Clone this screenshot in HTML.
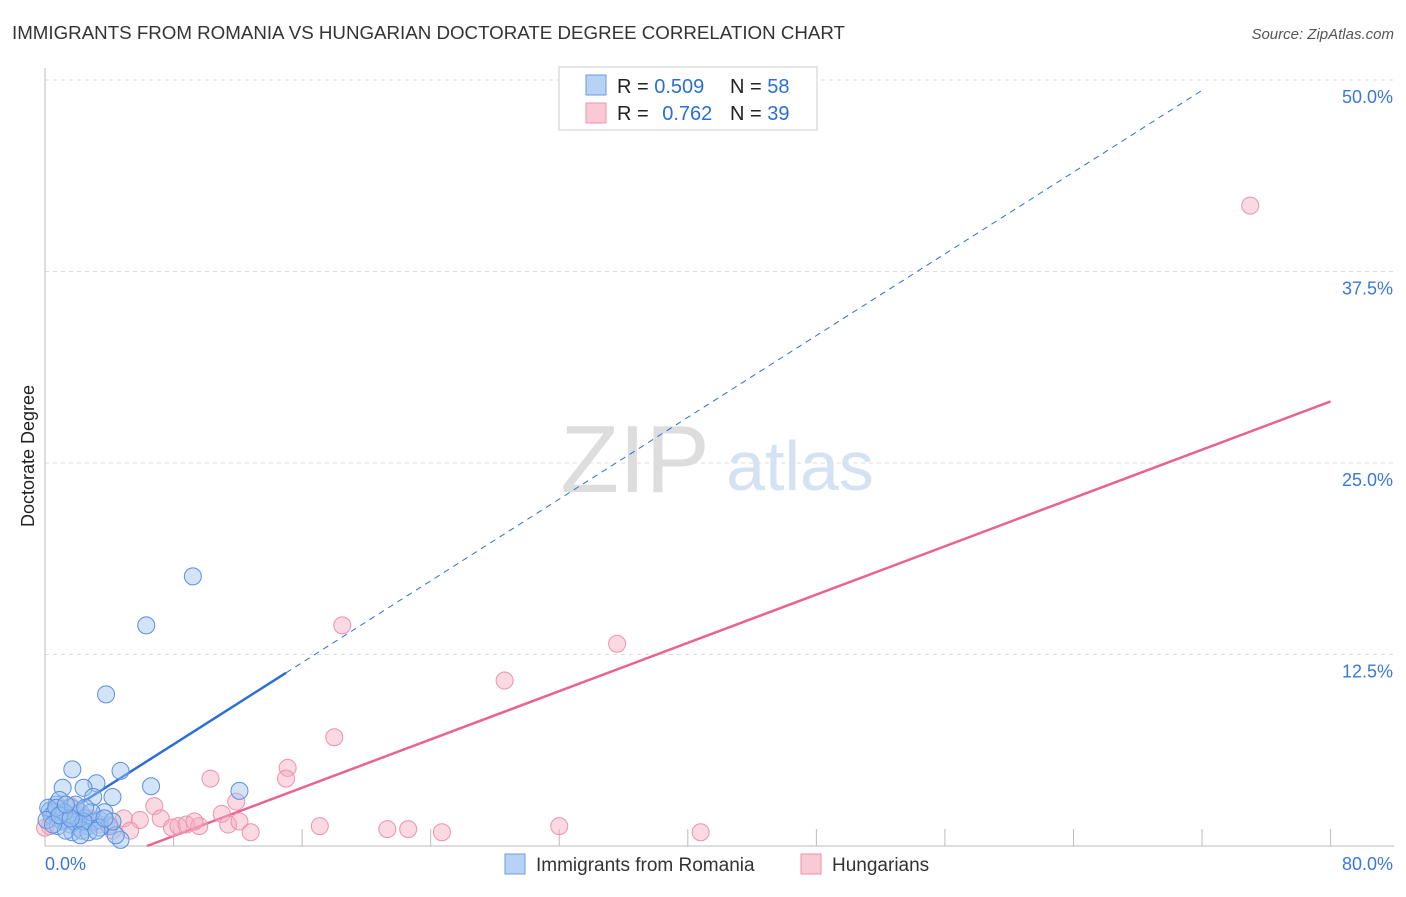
<!DOCTYPE html>
<html><head><meta charset="utf-8"><style>
body{margin:0;background:#fff;font-family:"Liberation Sans",sans-serif;}
svg text{font-family:"Liberation Sans",sans-serif;}
</style></head><body>
<svg width="1406" height="892" xmlns="http://www.w3.org/2000/svg">
<text x="12" y="39" font-size="18.5" fill="#333" textLength="833" lengthAdjust="spacingAndGlyphs">IMMIGRANTS FROM ROMANIA VS HUNGARIAN DOCTORATE DEGREE CORRELATION CHART</text>
<text x="1394" y="39" font-size="15" fill="#555" text-anchor="end" font-style="italic">Source: ZipAtlas.com</text>
<text x="34" y="456" font-size="18" fill="#222" text-anchor="middle" transform="rotate(-90 34 456)">Doctorate Degree</text>
<g>
<text x="635" y="492" font-size="96" fill="#ddd" font-family="Liberation Serif" text-anchor="middle">ZIP</text>
<text x="800" y="490" font-size="70" fill="#d4e2f4" text-anchor="middle">atlas</text>
</g>
<g id="grid"></g><g id="axes"></g><g id="lines"></g><g id="pts"></g>
<g>
<rect x="559" y="67" width="258" height="63" fill="#fff" stroke="#ccc"/>
<rect x="586" y="75" width="20" height="20" fill="#b8d2f5" stroke="#6a9be0"/>
<rect x="586" y="103" width="20" height="20" fill="#f9c9d6" stroke="#ec92ac"/>
<text x="617" y="93" font-size="20" fill="#222">R = <tspan fill="#2a6fd6">0.509</tspan><tspan x="730">N = </tspan><tspan fill="#2a6fd6">58</tspan></text>
<text x="617" y="120" font-size="20" fill="#222">R = <tspan fill="#2a6fd6" dx="8">0.762</tspan><tspan x="730">N = </tspan><tspan fill="#2a6fd6">39</tspan></text>
</g>
<g>
<rect x="505" y="854" width="20" height="20" fill="#b8d2f5" stroke="#6a9be0"/>
<text x="536" y="871" font-size="19" fill="#333">Immigrants from Romania</text>
<rect x="801" y="854" width="20" height="20" fill="#f9c9d6" stroke="#ec92ac"/>
<text x="832" y="871" font-size="19" fill="#333">Hungarians</text>
</g>
</svg>
<script>
const xTicks=[0,80];
const yTicks=[12.5,25,37.5,50];
const blueX=[9.2,6.3,3.8,1.7,4.7,3.2,1.1,6.6,12.1,2.4,4.2,3.0,0.7,0.9,1.6,0.3,0.4,0.8,1.2,1.9,2.2,2.5,2.8,1.6,1.1,0.6,0.2,2.1,2.7,3.1,3.4,1.7,2.3,4.0,3.7,1.4,1.8,0.8,1.3,2.9,0.1,0.5,3.4,4.7,4.4,2.7,1.9,1.2,0.7,2.4,3.2,0.9,1.6,2.5,4.2,2.2,1.3,3.7];
const blueY=[17.6,14.4,9.9,5.0,4.9,4.1,3.8,3.9,3.6,3.8,3.2,3.2,2.7,3.0,2.5,2.3,2.0,1.8,1.7,2.0,2.2,1.8,1.6,1.4,1.6,2.2,2.5,1.2,1.3,1.6,1.7,0.9,1.0,1.3,2.2,2.0,1.6,1.3,1.0,2.2,1.7,1.4,1.2,0.4,0.7,0.9,2.7,2.2,2.5,1.6,1.0,2.0,1.8,2.5,1.6,0.7,2.7,1.8];
const pinkX=[75,18.5,35.6,28.6,18.0,15.1,15.0,10.3,11.9,6.8,0.3,0.0,0.9,1.6,2.2,3.4,4.0,4.9,5.9,7.2,7.9,8.3,8.8,9.6,11.0,11.4,12.1,12.8,17.1,21.3,22.6,24.7,32.0,40.8,0.8,2.8,5.3,4.2,9.3];
const pinkY=[41.8,14.4,13.2,10.8,7.1,5.1,4.4,4.4,2.9,2.6,1.3,1.2,2.2,2.6,2.0,1.4,1.4,1.8,1.7,1.8,1.2,1.3,1.4,1.3,2.1,1.4,1.6,0.9,1.3,1.1,1.1,0.9,1.3,0.9,2.5,1.8,1.0,1.0,1.6];
const blueFit=[1.3,0.667], pinkFit=[-2.5,0.394];
const X=v=>45+v*16.07, Y=v=>846-v*15.32;
const NS="http://www.w3.org/2000/svg";
function mk(t,a,p){const e=document.createElementNS(NS,t);for(const k in a)e.setAttribute(k,a[k]);p.appendChild(e);return e;}
const grid=document.getElementById('grid'),axes=document.getElementById('axes');
for(const t of yTicks){
 const g=mk('line',{x1:45,x2:1394,y1:Y(t),y2:Y(t),stroke:'#ddd','stroke-dasharray':'4 4'},grid);
 
 
 const tx=mk('text',{x:1393,y:Y(t)+23,'font-size':18,fill:'#3a78d8','text-anchor':'end'},axes);tx.textContent=t.toFixed(1)+'%';
 
 
}
mk('line',{x1:45,x2:45,y1:68,y2:846,stroke:'#bbb'},axes);
mk('line',{x1:45,x2:1394,y1:846,y2:846,stroke:'#bbb'},axes);
for(let i=1;i<=10;i++){const x=X(i*8);const l=mk('line',{x1:x,x2:x,y1:829,y2:846,stroke:'#bbb'},axes);
 
 }
xTicks.forEach((t,i)=>{const tx=mk('text',{x:i?1393:45,y:870,'font-size':18,fill:'#3a78d8','text-anchor':i?'end':'start'},axes);tx.textContent=t.toFixed(1)+'%';
 
 });
const L=document.getElementById('lines');
const f=(c,x)=>c[0]+c[1]*x;
let e=mk('line',{x1:X(15),y1:Y(f(blueFit,15)),x2:X(72),y2:Y(f(blueFit,72)),stroke:'#2a6fd6','stroke-width':1,'stroke-dasharray':'6 5'},L);


e=mk('line',{x1:X(0),y1:Y(f(blueFit,0)),x2:X(15),y2:Y(f(blueFit,15)),stroke:'#2a6fd6','stroke-width':2.5},L);


const x0=-pinkFit[0]/pinkFit[1];
e=mk('line',{x1:X(x0),y1:Y(0),x2:X(80),y2:Y(f(pinkFit,80)),stroke:'#e8648f','stroke-width':2.5},L);


const P=document.getElementById('pts');
pinkX.forEach((x,i)=>{const c=mk('circle',{cx:X(x),cy:Y(pinkY[i]),r:8.5,fill:'rgba(245,170,192,0.45)',stroke:'#ec92ac','stroke-width':1},P);
 
 });
blueX.forEach((x,i)=>{const c=mk('circle',{cx:X(x),cy:Y(blueY[i]),r:8.5,fill:'rgba(160,195,240,0.45)',stroke:'#5a8fe0','stroke-width':1},P);
 
 });
</script>
</body></html>
